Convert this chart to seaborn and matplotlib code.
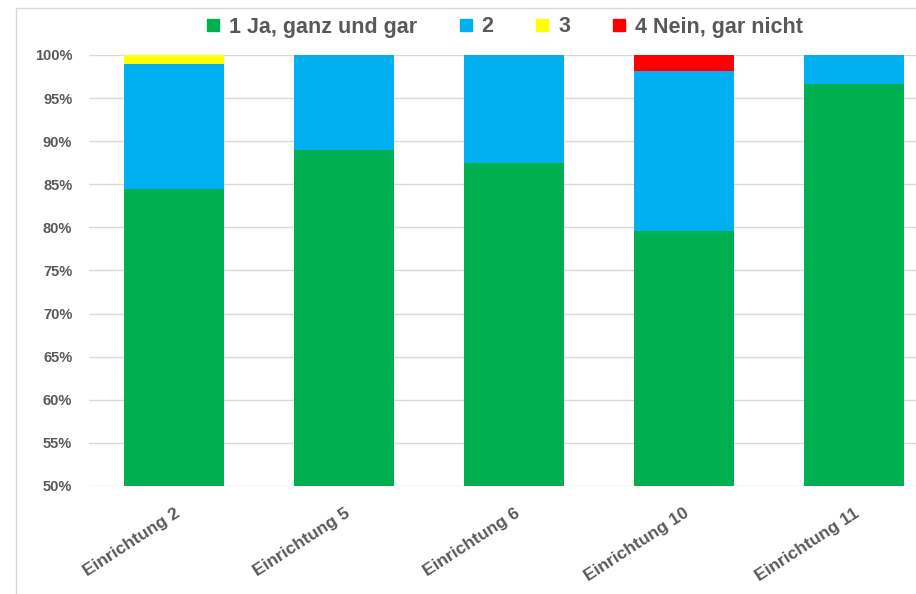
import matplotlib
matplotlib.use("Agg")
import matplotlib.pyplot as plt
import matplotlib.transforms as mtransforms
from matplotlib.lines import Line2D
import numpy as np
import pandas as pd
import seaborn as sns

# Survey answers per facility (share of responses, %)
einrichtungen = ["Einrichtung 2", "Einrichtung 5", "Einrichtung 6", "Einrichtung 10", "Einrichtung 11"]
antwort_1 = [84.5, 89.0, 87.5, 79.6, 96.6]   # 1 Ja, ganz und gar
antwort_2 = [14.5, 11.0, 12.5, 18.5, 3.4]    # 2
antwort_3 = [1.0, 0.0, 0.0, 0.0, 0.0]        # 3
antwort_4 = [0.0, 0.0, 0.0, 1.9, 0.0]        # 4 Nein, gar nicht
serien = ["1 Ja, ganz und gar", "2", "3", "4 Nein, gar nicht"]
farben = ["#00B050", "#00B0F0", "#FFFF00", "#FF0000"]
y_ticks = [50, 55, 60, 65, 70, 75, 80, 85, 90, 95, 100]

sns.set_theme(style="white")
plt.rcParams["font.family"] = ["Liberation Sans", "DejaVu Sans"]
text_col = "#595959"

fig = plt.figure(figsize=(9.16, 5.94), dpi=100)
W, H = 916, 594
ax = fig.add_axes([89 / W, (H - 486) / H, 1 - 89 / W, (486 - 55) / H])

# stacked bars: draw cumulative totals from the top layer down
werte = np.array([antwort_1, antwort_2, antwort_3, antwort_4])
kumuliert = np.cumsum(werte, axis=0)
for i in range(len(serien) - 1, -1, -1):
    df = pd.DataFrame({"Einrichtung": einrichtungen, "Anteil": kumuliert[i]})
    sns.barplot(data=df, x="Einrichtung", y="Anteil", color=farben[i],
                saturation=1, width=0.59, ax=ax, zorder=2,
                linewidth=0, edgecolor="none")

ax.set_ylim(50, 100)
ax.set_xlim(-0.5, (916 - 174) / 170)
ax.set_yticks(y_ticks)
ax.set_yticklabels([f"{t}%" for t in y_ticks])
ax.yaxis.grid(True, color="#D9D9D9", linewidth=1, zorder=0)
ax.set_axisbelow(True)
for s in ax.spines.values():
    s.set_visible(False)
ax.set_xlabel("")
ax.set_ylabel("")
ax.tick_params(axis="y", length=0, pad=12, labelsize=10.5, labelcolor=text_col)
ax.tick_params(axis="x", length=0, pad=14, labelsize=12.5, labelcolor=text_col)
for lbl in ax.get_yticklabels():
    lbl.set_fontweight("bold")
offset = mtransforms.ScaledTranslation(0, 0, fig.dpi_scale_trans)
for lbl in ax.get_xticklabels():
    lbl.set_rotation(33)
    lbl.set_ha("right")
    lbl.set_va("top")
    lbl.set_rotation_mode("anchor")
    lbl.set_fontweight("bold")
    lbl.set_transform(lbl.get_transform() + offset)

handles = [Line2D([], [], marker="s", linestyle="none", markersize=8,
                  markerfacecolor=c, markeredgecolor=c) for c in farben]
fig.legend(handles, serien, loc="center", bbox_to_anchor=(504 / W, 1 - 27 / H),
           ncol=4, frameon=False, handlelength=0.7, handletextpad=0.4,
           columnspacing=1.9, prop={"weight": "bold", "size": 15.5})
for t in fig.legends[0].get_texts():
    t.set_color(text_col)

# outer chart frame (top and left edges)
fig.add_artist(Line2D([16 / W, 16 / W], [0, 1 - 8 / H], transform=fig.transFigure,
                      color="#D9D9D9", linewidth=1))
fig.add_artist(Line2D([16 / W, 1], [1 - 8 / H, 1 - 8 / H], transform=fig.transFigure,
                      color="#D9D9D9", linewidth=1))

fig.savefig("out.png", dpi=100, facecolor="white")
